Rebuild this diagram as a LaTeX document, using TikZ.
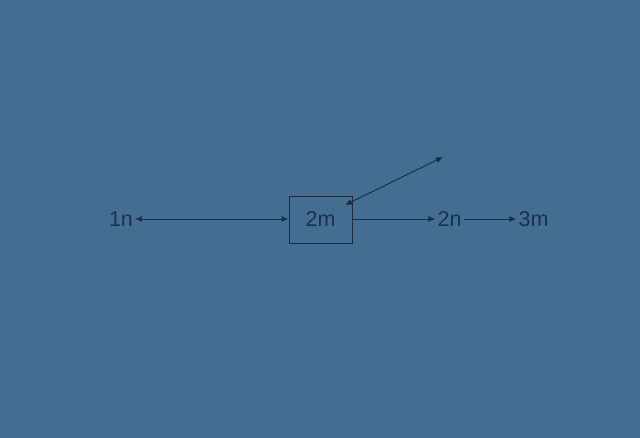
\documentclass[tikz,border=0pt]{standalone}
\usepackage{fontspec}
\setmainfont{Liberation Sans}
\usetikzlibrary{arrows.meta}
\definecolor{bg}{HTML}{436D91}
\definecolor{gridc}{HTML}{4B7599}
\definecolor{ink}{HTML}{1A324C}
\definecolor{linec}{HTML}{1C2C3E}
\begin{document}
\begin{tikzpicture}[x=1pt,y=-1pt,
  lbl/.style={text=ink,font=\fontsize{21.5}{24}\selectfont,inner sep=2pt,text height=15pt,text depth=0pt,anchor=center},
  conn/.style={draw=linec,line width=0.9pt,-{Latex[length=7pt,width=6pt]}},
  biconn/.style={draw=linec,line width=0.9pt,{Latex[length=7pt,width=6pt]}-{Latex[length=7pt,width=6pt]}},
  boxst/.style={draw=linec,line width=0.8pt,minimum width=63pt,minimum height=47pt,inner sep=0pt}]
\fill[bg] (0,0) rectangle (640,438);
\useasboundingbox (0,0) rectangle (640,438);
\draw[gridc,line width=0.6pt,opacity=0.35] (0,0) grid[step=20pt] (640,438);
\node[lbl] (n1) at (121,219) {1n};
\node[boxst,lbl,inner sep=0pt] (m2) at (320.5,219.5) {2m};
\node[lbl] (n2) at (449.5,219) {2n};
\node[lbl] (m3) at (533.5,219) {3m};
\coordinate (tip) at (443,157);
\coordinate (inb) at (345,205);
\draw[biconn] (n1.east) -- (m2.west |- n1.east);
\draw[conn] (m2.east |- n2.west) -- (n2.west);
\draw[conn] (n2.east) -- (m3.west);
\draw[biconn] (inb) -- (tip);
\end{tikzpicture}
\end{document}
